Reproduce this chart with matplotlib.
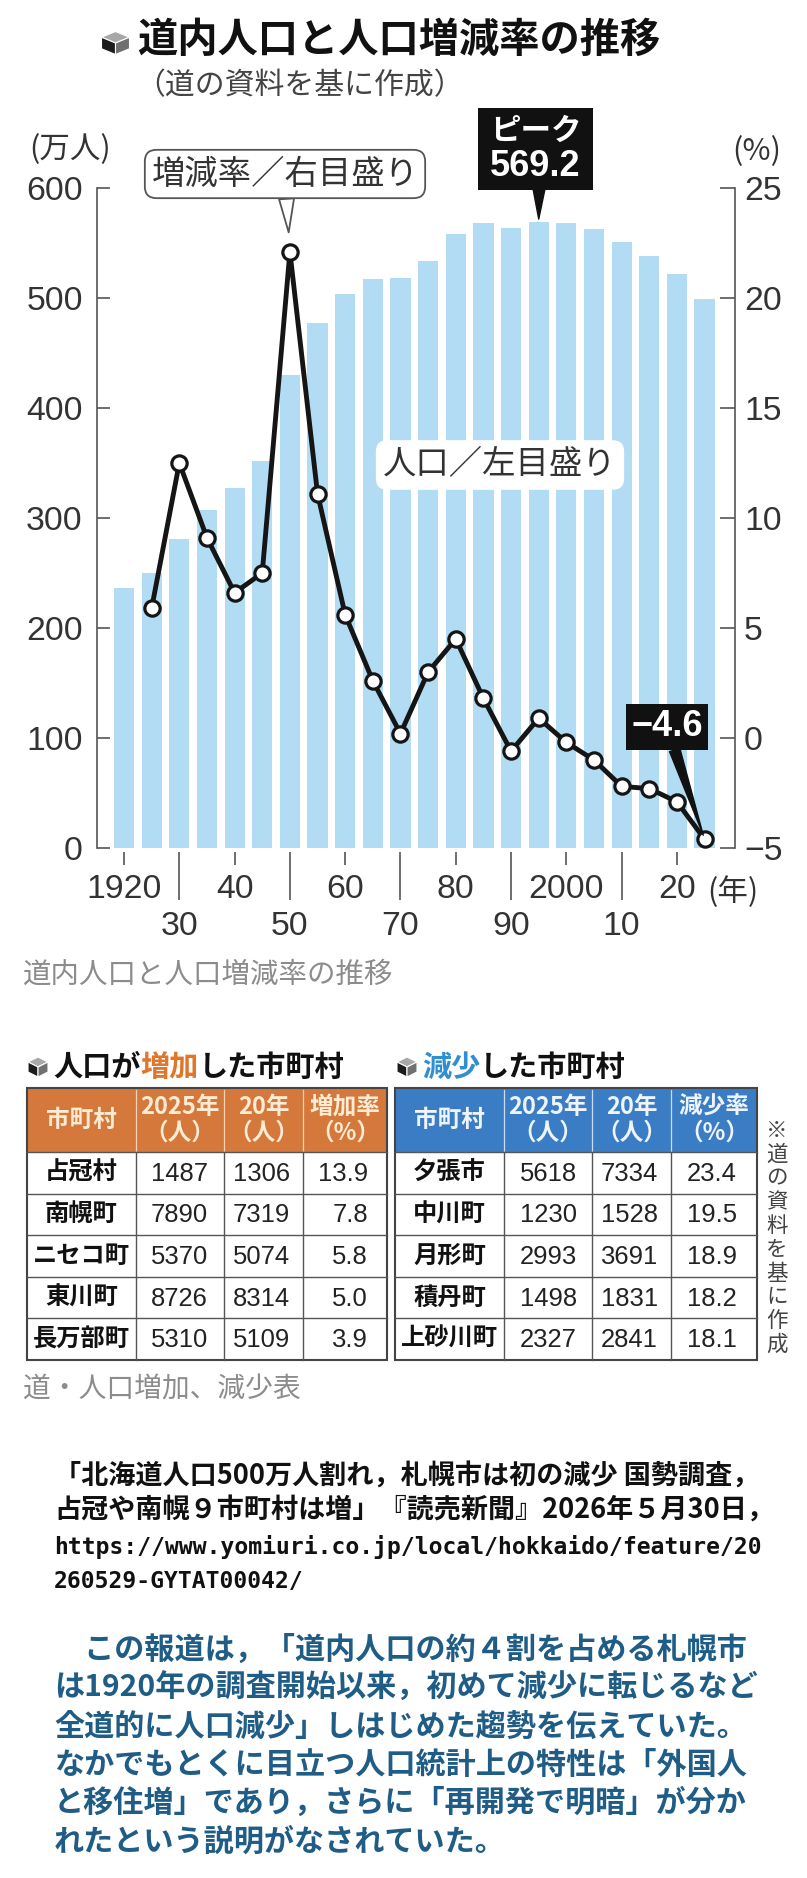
import matplotlib
matplotlib.use('Agg')
import matplotlib.pyplot as plt
from matplotlib import font_manager
from matplotlib.patches import Rectangle, Polygon
import numpy as np

W, H = 807, 1878

# ---- chart data ----
years = [1920, 1925, 1930, 1935, 1940, 1945, 1950, 1955, 1960, 1965, 1970,
         1975, 1980, 1985, 1990, 1995, 2000, 2005, 2010, 2015, 2020, 2025]
population = [236, 250, 281, 307, 327, 352, 430, 477, 504, 517, 518,
              534, 558, 568, 564, 569.2, 568, 563, 551, 538, 522, 499]
rate_years = years[1:]
rates = [5.9, 12.5, 9.1, 6.6, 7.5, 22.1, 11.1, 5.6, 2.6, 0.2,
         3.0, 4.5, 1.8, -0.6, 0.9, -0.2, -1.0, -2.2, -2.3, -2.9, -4.6]
major_years = [1920, 1940, 1960, 1980, 2000, 2020]
major_labels = ['1920', '40', '60', '80', '2000', '20']
minor_years = [1930, 1950, 1970, 1990, 2010]
minor_labels = ['30', '50', '70', '90', '10']
peak_year, peak_value = 1995, 569.2
last_year, last_rate = 2025, -4.6
boom_year, boom_rate = 1950, 22.1

# ---- table data ----
inc_names = ['占冠村', '南幌町', 'ニセコ町', '東川町', '長万部町']
inc_2025 = [1487, 7890, 5370, 8726, 5310]
inc_2020 = [1306, 7319, 5074, 8314, 5109]
inc_rate = [13.9, 7.8, 5.8, 5.0, 3.9]
dec_names = ['夕張市', '中川町', '月形町', '積丹町', '上砂川町']
dec_2025 = [5618, 1230, 2993, 1498, 2327]
dec_2020 = [7334, 1528, 3691, 1831, 2841]
dec_rate = [23.4, 19.5, 18.9, 18.2, 18.1]

citation = ['「北海道人口500万人割れ，札幌市は初の減少 国勢調査，',
            '占冠や南幌９市町村は増」『読売新聞』2026年５月30日，',
            'https://www.yomiuri.co.jp/local/hokkaido/feature/20',
            '260529-GYTAT00042/']
comment = ['　この報道は，「道内人口の約４割を占める札幌市',
           'は1920年の調査開始以来，初めて減少に転じるなど',
           '全道的に人口減少」しはじめた趨勢を伝えていた。',
           'なかでもとくに目立つ人口統計上の特性は「外国人',
           'と移住増」であり，さらに「再開発で明暗」が分か',
           'れたという説明がなされていた。']

names = {f.name for f in font_manager.fontManager.ttflist}
if 'Liberation Sans Narrow' in names:
    NUM, k = 'Liberation Sans Narrow', 1.0
else:
    NUM, k = 'Liberation Sans', 0.9
JP = ['Noto Sans CJK JP', 'DejaVu Sans']
plt.rcParams['font.family'] = [NUM, 'Noto Sans CJK JP', 'DejaVu Sans']

BAR = '#b2dcf4'
AX = '#555555'
TXT = '#333333'
TICK_FS = 27 * k

fig = plt.figure(figsize=(W / 100, H / 100), dpi=100)
fig.patch.set_facecolor('white')

# chart axes placed in pixel layout
x0, x1, y_top, y_bot = 96.7, 735, 188, 848
ax = fig.add_axes([x0 / W, 1 - y_bot / H, (x1 - x0) / W, (y_bot - y_top) / H])
ax.bar(years, population, width=3.65, color=BAR, zorder=1)
ax.set_xlim(1915.06, 2030.5)
ax.set_ylim(0, 600)
ax.set_yticks(range(0, 601, 100))
for s in ['top', 'right', 'bottom']:
    ax.spines[s].set_visible(False)
ax.spines['left'].set_color(AX)
ax.spines['left'].set_linewidth(1.2)
ax.spines['bottom'].set_position(('outward', 3))
ax.tick_params(axis='y', direction='in', length=9.6, width=1.2, color=AX,
               pad=10, labelsize=TICK_FS, labelcolor=TXT)
ax.set_xticks(major_years, major_labels)
ax.set_xticks(minor_years, minor_labels, minor=True)
ax.tick_params(axis='x', which='major', length=9.5, width=1.2, color=AX,
               pad=6, labelsize=TICK_FS, labelcolor=TXT)
ax.tick_params(axis='x', which='minor', length=34.5, width=1.2, color=AX,
               pad=8, labelsize=TICK_FS, labelcolor=TXT)

ax2 = ax.twinx()
ax2.plot(rate_years, rates, color='#151515', lw=3.5, marker='o', ms=11,
         mfc='white', mec='#151515', mew=2.3, clip_on=False, zorder=3)
ax2.set_ylim(-5, 25)
ax2.set_yticks(range(-5, 26, 5))
for s in ['top', 'left', 'bottom']:
    ax2.spines[s].set_visible(False)
ax2.spines['right'].set_color(AX)
ax2.spines['right'].set_linewidth(1.2)
ax2.tick_params(axis='y', direction='in', length=10.5, width=1.2, color=AX,
                pad=6.5, labelsize=TICK_FS, labelcolor=TXT)

# overlay in pixel coordinates for texts, boxes and tables
ov = fig.add_axes([0, 0, 1, 1])
ov.set_xlim(0, W)
ov.set_ylim(H, 0)
ov.set_autoscale_on(False)
ov.axis('off')


def cube(cx, cy, rx, ry):
    hy = ry * 0.5
    top = [(cx, cy - ry), (cx + rx, cy - hy), (cx, cy), (cx - rx, cy - hy)]
    left = [(cx - rx, cy - hy), (cx, cy), (cx, cy + ry), (cx - rx, cy + hy)]
    right = [(cx, cy), (cx + rx, cy - hy), (cx + rx, cy + hy), (cx, cy + ry)]
    for pts, c in [(top, '#a8a8a8'), (left, '#1c1c1c'), (right, '#707070')]:
        ov.add_patch(Polygon(pts, closed=True, fc=c, ec='white', lw=0.8))


# title block
cube(115.5, 43, 14, 11.5)
ov.text(137, 40, '道内人口と人口増減率の推移', family=JP, fontsize=29, weight='bold',
        color='#111', va='center', ha='left')
ov.text(135, 86, '（道の資料を基に作成）', family=JP, fontsize=21.5, color='#444',
        va='center', ha='left')
ov.text(70, 150, '(万人)', family=JP, fontsize=22, color=TXT, ha='center', va='center')
ov.text(757, 152, '(%)', family=JP, fontsize=22, color=TXT, ha='center', va='center')
ov.text(733, 892, '(年)', family=JP, fontsize=22, color=TXT, ha='center', va='center')

# rate label with pointer to 1950
ov.annotate('増減率／右目盛り', xy=(boom_year, boom_rate), xycoords=ax2.transData,
            xytext=(285, 174), textcoords='data', family=JP, fontsize=24, color=TXT,
            ha='center', va='center',
            bbox=dict(boxstyle='round,pad=0.2,rounding_size=0.35', fc='white', ec=AX, lw=1.3),
            arrowprops=dict(arrowstyle='wedge,tail_width=0.45', fc='white', ec=AX, lw=1.3,
                            shrinkA=0, shrinkB=14))

# population label
ov.text(500, 465, '人口／左目盛り', family=JP, fontsize=24, color=TXT, ha='center',
        va='center', bbox=dict(boxstyle='round,pad=0.22,rounding_size=0.35', fc='white', ec='none'))

# peak box
ov.add_patch(Rectangle((478, 108), 115, 82, fc='#111', ec='none'))
ov.text(535.5, 131, 'ピーク', family=JP, fontsize=22, weight='bold', color='white',
        ha='center', va='center')
ov.text(535.5, 167, f'{peak_value:.1f}', fontsize=31 * (0.84 if k < 1 else 1), weight='bold',
        color='white', ha='center', va='center')
ov.annotate('', xy=(peak_year, peak_value), xycoords=ax.transData, xytext=(539, 189),
            textcoords='data',
            arrowprops=dict(arrowstyle='wedge,tail_width=0.43', mutation_scale=20,
                            fc='#111', ec='#111', shrinkA=0, shrinkB=2))

# last value box
ov.annotate(f'{last_rate:.1f}'.replace('-', '\u2212'), xy=(last_year, last_rate),
            xycoords=ax2.transData, xytext=(667, 727), textcoords='data',
            family=['Liberation Sans', 'DejaVu Sans'], fontsize=26, weight='bold',
            color='white', ha='center', va='center',
            bbox=dict(boxstyle='square,pad=0.15', fc='#111', ec='none'),
            arrowprops=dict(arrowstyle='wedge,tail_width=0.3', mutation_scale=26,
                            fc='#111', ec='#111', shrinkA=0, shrinkB=3))

ov.text(23, 975, '道内人口と人口増減率の推移', family=JP, fontsize=20.5, color='#8c8c8c',
        ha='left', va='center')


# ---- tables ----
def heading(x, y, parts):
    prev = None
    for txt, col in parts:
        if prev is None:
            prev = ov.text(x, y, txt, family=JP, fontsize=21, weight='bold', color=col,
                           ha='left', va='bottom')
        else:
            prev = ov.annotate(txt, xy=(1, 0), xycoords=prev, family=JP, fontsize=21,
                               weight='bold', color=col, ha='left', va='bottom')


def draw_table(xe, tnames, a, b, rate, head_fc, head_tc, rate_head, rights):
    top, hb, rh = 1088, 1152, 41.6
    rows = hb + rh * np.arange(6)
    ov.add_patch(Rectangle((xe[0], top), xe[-1] - xe[0], hb - top, fc=head_fc, ec='none'))
    for x in xe[1:-1]:
        ov.plot([x, x], [top + 2, hb], color=head_tc, lw=0.9, alpha=0.8)
        ov.plot([x, x], [hb, rows[-1]], color='#555', lw=1.0)
    for y in rows[:-1]:
        ov.plot([xe[0], xe[-1]], [y, y], color='#555', lw=1.0)
    ov.add_patch(Rectangle((xe[0], top), xe[-1] - xe[0], rows[-1] - top, fill=False,
                           ec='#444', lw=1.5))
    cx = [(xe[i] + xe[i + 1]) / 2 for i in range(4)]
    ov.text(cx[0], (top + hb) / 2, '市町村', family=JP, fontsize=17, weight='bold',
            color=head_tc, ha='center', va='center')
    heads = [('2025年', '（人）'), ('20年', '（人）'), (rate_head, '（%）')]
    for i, (l1, l2) in enumerate(heads):
        ov.text(cx[i + 1], 1107, l1, family=JP, fontsize=17, weight='bold', color=head_tc,
                ha='center', va='center')
        ov.text(cx[i + 1], 1133, l2, family=JP, fontsize=17, weight='bold', color=head_tc,
                ha='center', va='center')
    for r in range(5):
        yc = (rows[r] + rows[r + 1]) / 2
        ov.text(cx[0], yc, tnames[r], family=JP, fontsize=17.5, weight='bold', color='#111',
                ha='center', va='center')
        for val, xr in zip([str(a[r]), str(b[r]), f'{rate[r]:.1f}'], rights):
            ov.text(xr, yc + 1, val, fontsize=20.5 * k, color='#222', ha='right', va='center')


cube(38, 1067, 10, 10)
heading(53, 1082, [('人口が', '#111'), ('増加', '#e0762a'), ('した市町村', '#111')])
draw_table([27, 136, 224, 303, 387], inc_names, inc_2025, inc_2020, inc_rate,
           '#d4783b', '#fdebd3', '増加率', [208, 290, 368])

cube(407, 1067, 10, 10)
heading(422, 1082, [('減少', '#2f8fd0'), ('した市町村', '#111')])
draw_table([395, 504, 592, 671, 757], dec_names, dec_2025, dec_2020, dec_rate,
           '#3b7dc4', '#eef4fb', '減少率', [577, 658, 737])

for i, ch in enumerate('※道の資料を基に作成'):
    ov.text(777, 1131 + i * 23.8, ch, family=JP, fontsize=15.5, color='#444',
            ha='center', va='center')

ov.text(23, 1390, '道・人口増加、減少表', family=JP, fontsize=20, color='#8c8c8c',
        ha='left', va='center')

# ---- citation and comment ----
for i, (line, y) in enumerate(zip(citation, [1477, 1511, 1547, 1582])):
    if i >= 2:
        ov.text(54, y, line, family=['DejaVu Sans Mono'], fontsize=16.6, weight='bold',
                color='#111', ha='left', va='center')
    else:
        ov.text(54, y, line, family=JP, fontsize=19.5, weight='bold', color='#111',
                ha='left', va='center')

for line, y in zip(comment, [1650, 1688, 1727, 1765, 1803, 1842]):
    ov.text(54, y, line, family=JP, fontsize=21.7, weight='bold', color='#1f5d86',
            ha='left', va='center')

fig.savefig('out.png', dpi=100, facecolor='white')
